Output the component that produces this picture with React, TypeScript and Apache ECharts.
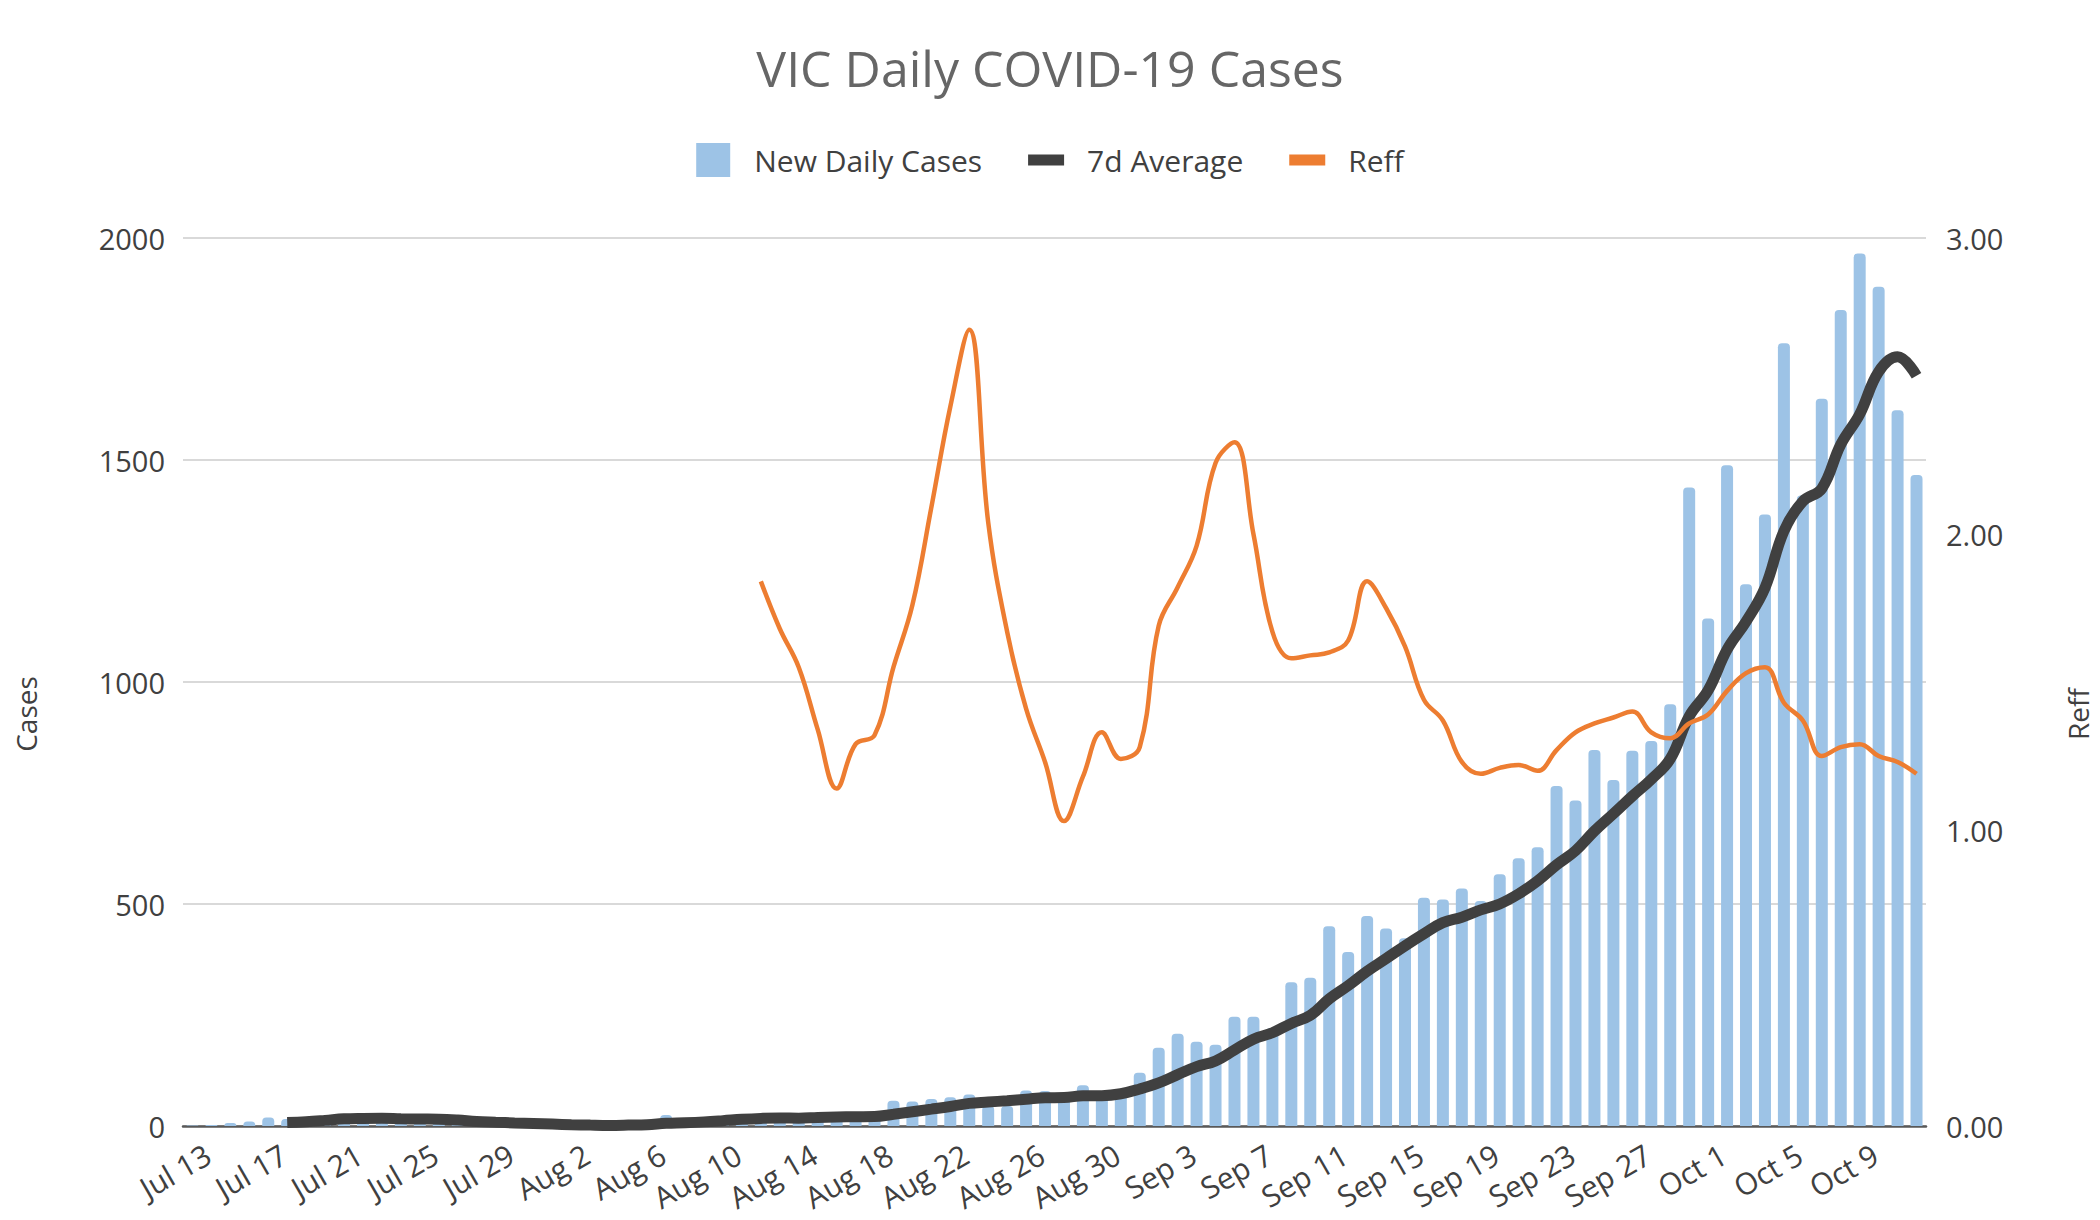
import React, { useEffect, useRef } from "react";
import * as echarts from "echarts";

const categories = [
  "Jul 13", "Jul 14", "Jul 15", "Jul 16", "Jul 17", "Jul 18", "Jul 19", "Jul 20", "Jul 21", "Jul 22",
  "Jul 23", "Jul 24", "Jul 25", "Jul 26", "Jul 27", "Jul 28", "Jul 29", "Jul 30", "Jul 31",
  "Aug 1", "Aug 2", "Aug 3", "Aug 4", "Aug 5", "Aug 6", "Aug 7", "Aug 8", "Aug 9", "Aug 10",
  "Aug 11", "Aug 12", "Aug 13", "Aug 14", "Aug 15", "Aug 16", "Aug 17", "Aug 18", "Aug 19", "Aug 20",
  "Aug 21", "Aug 22", "Aug 23", "Aug 24", "Aug 25", "Aug 26", "Aug 27", "Aug 28", "Aug 29", "Aug 30", "Aug 31",
  "Sep 1", "Sep 2", "Sep 3", "Sep 4", "Sep 5", "Sep 6", "Sep 7", "Sep 8", "Sep 9", "Sep 10",
  "Sep 11", "Sep 12", "Sep 13", "Sep 14", "Sep 15", "Sep 16", "Sep 17", "Sep 18", "Sep 19", "Sep 20",
  "Sep 21", "Sep 22", "Sep 23", "Sep 24", "Sep 25", "Sep 26", "Sep 27", "Sep 28", "Sep 29", "Sep 30",
  "Oct 1", "Oct 2", "Oct 3", "Oct 4", "Oct 5", "Oct 6", "Oct 7", "Oct 8", "Oct 9", "Oct 10",
  "Oct 11", "Oct 12",
];

const newDailyCases = [
  1, 2, 7, 10, 19, 16, 13, 22, 26, 14,
  12, 12, 11, 10, 8, 4, 2, 1, 3, 2,
  1, 1, 0, 6, 8, 25, 11, 14, 20, 21,
  21, 15, 21, 22, 22, 24, 24, 57, 55, 61,
  65, 71, 45, 45, 80, 79, 64, 92, 73, 76,
  120, 176, 208, 190, 183, 246, 246, 221, 324, 334,
  450, 392, 473, 445, 423, 514, 510, 535, 507, 567,
  603, 628, 766, 733, 847, 779, 845, 867, 950, 1438,
  1143, 1488, 1220, 1377, 1763, 1420, 1638, 1838, 1965, 1890,
  1612, 1466,
];

const sevenDayAverage = [
  null, null, null, null, null, 7.9, 9.7, 12.7, 16.1, 17.1,
  17.4, 16.4, 15.7, 15.3, 13.3, 10.1, 8.4, 6.9, 5.6, 4.3,
  3.0, 2.0, 1.4, 2.0, 3.0, 6.1, 7.4, 9.3, 12.0, 15.0,
  17.1, 18.1, 17.6, 19.1, 20.3, 20.9, 21.3, 26.4, 32.1, 37.9,
  44.0, 51.0, 54.0, 57.0, 60.3, 63.7, 64.1, 68.0, 68.3, 72.7,
  83.4, 97.1, 115.6, 133.6, 146.6, 171.3, 195.6, 210.0, 231.1, 249.1,
  286.3, 316.1, 348.6, 377.0, 405.9, 433.0, 458.1, 470.3, 486.7, 500.1,
  522.7, 552.0, 588.0, 619.9, 664.4, 703.3, 743.0, 780.7, 826.7, 922.7,
  981.3, 1072.9, 1135.9, 1211.9, 1339.9, 1407.0, 1435.6, 1534.9, 1603.0, 1698.7,
  1732.3, 1689.9,
];

const reff = [
  null, null, null, null, null, null, null, null, null, null,
  null, null, null, null, null, null, null, null, null, null,
  null, null, null, null, null, null, null, null, null, null,
  1.84, 1.68, 1.55, 1.34, 1.14, 1.29, 1.32, 1.55, 1.76, 2.09,
  2.43, 2.69, 2.04, 1.67, 1.41, 1.23, 1.03, 1.18, 1.33, 1.24,
  1.28, 1.69, 1.82, 1.96, 2.24, 2.31, 2.0, 1.67, 1.58, 1.59,
  1.6, 1.64, 1.84, 1.75, 1.62, 1.44, 1.37, 1.23, 1.19, 1.21,
  1.22, 1.2, 1.27, 1.33, 1.36, 1.38, 1.4, 1.33, 1.31, 1.36,
  1.39, 1.47, 1.53, 1.55, 1.43, 1.37, 1.25, 1.28, 1.29, 1.25,
  1.23, 1.19,
];

const seriesNames = ["New Daily Cases", "7d Average", "Reff"];
const chartTitle = "VIC Daily COVID-19 Cases";
const leftAxisName = "Cases";
const rightAxisName = "Reff";

const FONT = "'Open Sans', 'Noto Sans', sans-serif";
const LABEL_COLOR = "#404040";

export default function App() {
  const ref = useRef<HTMLDivElement>(null);

  useEffect(() => {
    if (!ref.current) return;
    const chart = echarts.init(ref.current, null, { renderer: "svg" });
    chart.setOption({
      animation: false,
      backgroundColor: "#ffffff",
      textStyle: { fontFamily: FONT },
      title: {
        text: chartTitle,
        left: "center",
        top: 38,
        textStyle: {
          fontFamily: FONT,
          fontSize: 50,
          fontWeight: "normal",
          color: "#666666",
        },
      },
      legend: {
        top: 138,
        left: "center",
        itemWidth: 36,
        itemHeight: 34,
        itemGap: 46,
        textStyle: {
          fontFamily: FONT,
          fontSize: 30,
          color: LABEL_COLOR,
          padding: [0, 0, 0, 18],
        },
        data: [
          { name: seriesNames[0], icon: "path://M0,0H34V34H0Z" },
          { name: seriesNames[1], icon: "path://M0,0H36V11H0Z" },
          { name: seriesNames[2], icon: "path://M0,0H36V11H0Z" },
        ],
      },
      grid: { left: 183, right: 174, top: 238, bottom: 94, containLabel: false },
      xAxis: {
        type: "category",
        data: categories,
        boundaryGap: true,
        axisLine: { show: true, lineStyle: { color: "#595959", width: 2.5 } },
        axisTick: { show: false },
        axisLabel: {
          interval: 3,
          rotate: 30,
          margin: 35,
          lineHeight: 22,
          padding: [0, -18, 0, 0],
          fontFamily: FONT,
          fontSize: 30,
          color: LABEL_COLOR,
        },
        splitLine: { show: false },
      },
      yAxis: [
        {
          type: "value",
          min: 0,
          max: 2000,
          interval: 500,
          name: leftAxisName,
          nameLocation: "middle",
          nameRotate: 90,
          nameGap: 143,
          nameTextStyle: {
            fontFamily: FONT,
            fontSize: 28,
            color: LABEL_COLOR,
            padding: [0, 64, 0, 0],
          },
          axisLine: { show: false },
          axisTick: { show: false },
          axisLabel: {
            margin: 18,
            fontFamily: FONT,
            fontSize: 29,
            color: LABEL_COLOR,
            formatter: (v: number) => String(v),
          },
          splitLine: { show: true, lineStyle: { color: "#d9d9d9", width: 2 } },
        },
        {
          type: "value",
          min: 0,
          max: 3,
          interval: 1,
          name: rightAxisName,
          nameLocation: "middle",
          nameRotate: 90,
          nameGap: 138,
          nameTextStyle: {
            fontFamily: FONT,
            fontSize: 28,
            color: LABEL_COLOR,
            padding: [0, 64, 0, 0],
          },
          axisLine: { show: false },
          axisTick: { show: false },
          axisLabel: {
            margin: 20,
            fontFamily: FONT,
            fontSize: 29,
            color: LABEL_COLOR,
            formatter: (v: number) => v.toFixed(2),
          },
          splitLine: { show: false },
        },
      ],
      series: [
        {
          name: seriesNames[0],
          type: "bar",
          yAxisIndex: 0,
          data: newDailyCases,
          barWidth: 12,
          itemStyle: { color: "#9dc3e6", borderRadius: [4, 4, 0, 0] },
        },
        {
          name: seriesNames[1],
          type: "line",
          yAxisIndex: 0,
          data: sevenDayAverage,
          smooth: 0.4,
          showSymbol: false,
          symbol: "none",
          lineStyle: { color: "#404040", width: 11 },
          itemStyle: { color: "#404040" },
        },
        {
          name: seriesNames[2],
          type: "line",
          yAxisIndex: 1,
          data: reff,
          smooth: 0.4,
          showSymbol: false,
          symbol: "none",
          lineStyle: { color: "#ed7d31", width: 4.5 },
          itemStyle: { color: "#ed7d31" },
        },
      ],
    });
    return () => chart.dispose();
  }, []);

  return (
    <div
      ref={ref}
      style={{ position: "fixed", left: 0, top: 0, width: 2100, height: 1220, background: "#fff" }}
    />
  );
}
